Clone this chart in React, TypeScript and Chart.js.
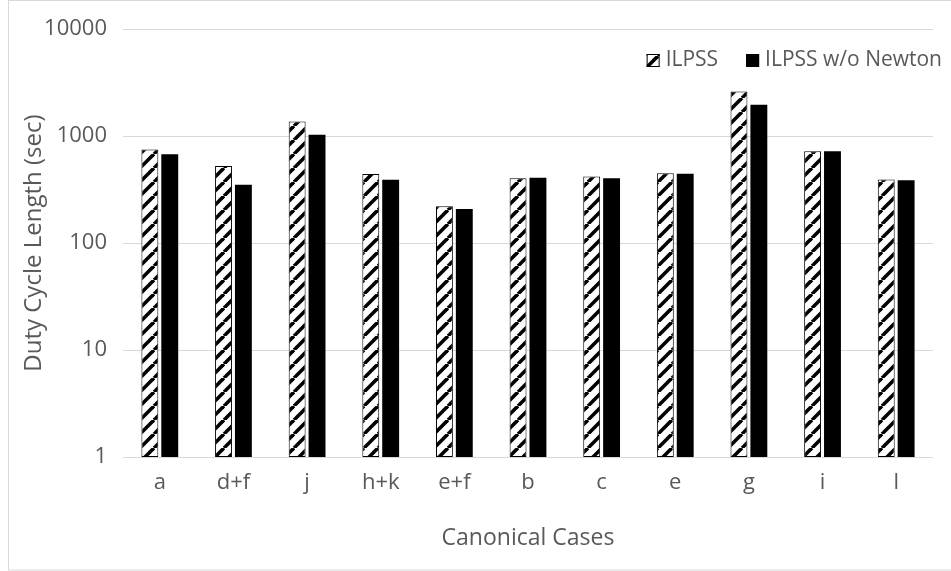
import React, { useEffect, useRef } from 'react';
import { Chart, registerables } from 'chart.js';

Chart.register(...registerables);

// Duty cycle length per canonical case, seconds
const categories = ['a', 'd+f', 'j', 'h+k', 'e+f', 'b', 'c', 'e', 'g', 'i', 'l'];
const ilpss = [751, 525, 1372, 442, 221, 403, 420, 451, 2614, 724, 394];
const ilpssNoNewton = [679, 352, 1031, 392, 208, 409, 403, 446, 1965, 724, 386];
const seriesNames = ['ILPSS', 'ILPSS w/o Newton'];
const yTicks = [1, 10, 100, 1000, 10000];

const TEXT = '#595959';
const GRID = '#d9d9d9';
const FONT = "'Open Sans', sans-serif";
const W = 951;
const H = 571;

// Diagonal "/" stripes on white
function makeHatch(ctx: CanvasRenderingContext2D): CanvasPattern {
  const P = 14;
  const c = document.createElement('canvas');
  c.width = P;
  c.height = P;
  const g = c.getContext('2d')!;
  g.fillStyle = '#ffffff';
  g.fillRect(0, 0, P, P);
  g.strokeStyle = '#000000';
  g.lineWidth = 3.6;
  for (const k of [-P, 0, P]) {
    g.beginPath();
    g.moveTo(k, P);
    g.lineTo(k + P, 0);
    g.stroke();
  }
  return ctx.createPattern(c, 'repeat')!;
}

const framePlugin = {
  id: 'frame',
  beforeDraw(chart: any) {
    const { ctx } = chart;
    ctx.save();
    ctx.fillStyle = '#ffffff';
    ctx.fillRect(0, 0, W, H);
    ctx.strokeStyle = GRID;
    ctx.lineWidth = 1;
    ctx.strokeRect(8.5, 0.5, W, H - 1.5);
    ctx.restore();
  },
};

const legendPlugin = {
  id: 'insideLegend',
  afterDraw(chart: any) {
    const { ctx } = chart;
    const box = 13;
    const gapText = 6;
    const gapItem = 28;
    const right = 942;
    const cy = 60.5;
    ctx.save();
    ctx.font = `21px ${FONT}`;
    ctx.textBaseline = 'middle';
    ctx.textAlign = 'left';
    const items = chart.data.datasets.map((ds: any) => ({
      label: ds.label,
      fill: ds.backgroundColor,
      width: ctx.measureText(ds.label).width,
    }));
    let x = right;
    const placed: any[] = [];
    for (let i = items.length - 1; i >= 0; i--) {
      const it = items[i];
      const textX = x - it.width;
      const boxX = textX - gapText - box;
      placed.unshift({ ...it, textX, boxX });
      x = boxX - gapItem;
    }
    for (const p of placed) {
      ctx.fillStyle = p.fill;
      ctx.fillRect(p.boxX, cy - box / 2, box, box);
      ctx.strokeStyle = '#000';
      ctx.lineWidth = 1;
      ctx.strokeRect(p.boxX + 0.5, cy - box / 2 + 0.5, box - 1, box - 1);
      ctx.fillStyle = TEXT;
      ctx.fillText(p.label, p.textX, cy);
    }
    ctx.restore();
  },
};

export default function App() {
  const ref = useRef<HTMLCanvasElement | null>(null);

  useEffect(() => {
    const canvas = ref.current!;
    const ctx = canvas.getContext('2d')!;
    const hatch = makeHatch(ctx);

    const chart = new Chart(ctx, {
      type: 'bar',
      data: {
        labels: categories,
        datasets: [
          {
            label: seriesNames[0],
            data: ilpss,
            backgroundColor: hatch,
            borderColor: '#000000',
            borderWidth: 1,
            borderSkipped: false,
          },
          {
            label: seriesNames[1],
            data: ilpssNoNewton,
            backgroundColor: '#000000',
            borderColor: '#000000',
            borderWidth: 0,
          },
        ],
      },
      options: {
        responsive: false,
        animation: false,
        devicePixelRatio: 1,
        layout: { padding: { left: 9, right: 18, top: 28, bottom: 0 } },
        datasets: {
          bar: { categoryPercentage: 0.54, barPercentage: 0.85 },
        },
        plugins: {
          legend: { display: false },
          tooltip: { enabled: false },
        },
        scales: {
          x: {
            grid: { display: false, drawTicks: false, tickLength: 0 },
            border: { display: false },
            ticks: { color: TEXT, font: { family: FONT, size: 22 }, padding: 13 },
            title: {
              display: true,
              text: 'Canonical Cases',
              color: TEXT,
              font: { family: FONT, size: 23 },
              padding: { top: 0, bottom: 19 },
            },
            afterFit: (s: any) => {
              s.height = 114;
            },
          },
          y: {
            type: 'logarithmic',
            min: 1,
            max: 10000,
            grid: { color: GRID, lineWidth: 1, drawTicks: false },
            border: { display: false },
            afterBuildTicks: (s: any) => {
              s.ticks = yTicks.map((v) => ({ value: v }));
            },
            ticks: {
              color: TEXT,
              font: { family: FONT, size: 22 },
              padding: 16,
              callback: (v: any) => String(v),
            },
            title: {
              display: true,
              text: 'Duty Cycle Length (sec)',
              color: TEXT,
              font: { family: FONT, size: 24 },
              padding: { top: 11, bottom: 0 },
            },
            afterFit: (s: any) => {
              s.width = 114;
            },
          },
        },
      },
      plugins: [framePlugin, legendPlugin],
    });

    return () => chart.destroy();
  }, []);

  return (
    <div style={{ position: 'fixed', left: 0, top: 0, width: W, height: H, background: '#fff' }}>
      <canvas ref={ref} width={W} height={H} style={{ display: 'block' }} />
    </div>
  );
}
